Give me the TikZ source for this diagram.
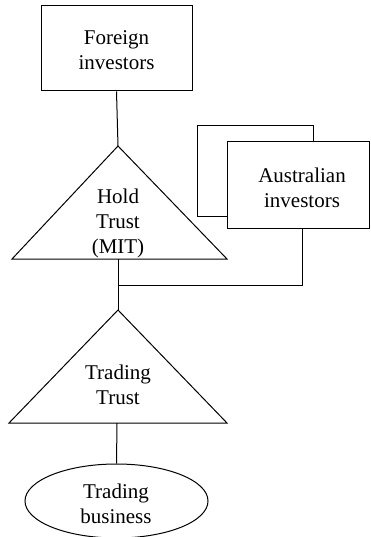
\documentclass[tikz,border=0pt]{standalone}
\usepackage{fontspec}
\setmainfont{Liberation Serif}
\usetikzlibrary{shapes.geometric}
\begin{document}
\begin{tikzpicture}[x=1pt,y=-1pt,
  every path/.style={line width=1pt},
  lbl/.style={align=center,inner sep=0pt,font=\fontsize{21}{25}\selectfont},
  boxshape/.style={draw,fill=white,line width=1pt}]
\useasboundingbox (0,0) rectangle (370,537);
% Foreign investors box
\node[draw,line width=1pt,minimum width=151pt,minimum height=85pt,inner sep=0pt] (fbox) at (116.5,48.5) {};
\node[lbl] (ftxt) at (116.5,50) {Foreign\\investors};
% Hold trust triangle
\coordinate (hapex) at (118,146);
\coordinate (hbl) at (12,259);
\coordinate (hbr) at (227,259);
\coordinate (hbase) at (118,259);
\draw (hapex) -- (hbr) -- (hbl) -- cycle;
\node[lbl] (htxt) at (118,223) {Hold\\Trust\\(MIT)};
% Australian investors
\draw[boxshape] (197,126) rectangle (313,216);
\draw[boxshape] (227,142) rectangle (369.5,228);
\coordinate (abot) at (302,228);
\node[lbl] (atxt) at (302,187.5) {Australian\\investors};
% junction
\coordinate (jr) at (302,285);
\coordinate (jl) at (118,285);
% Trading trust triangle
\coordinate (tapex) at (118,310);
\coordinate (tbl) at (9,423);
\coordinate (tbr) at (227,423);
\coordinate (tbase) at (117,423);
\draw (tapex) -- (tbr) -- (tbl) -- cycle;
\node[lbl] (ttxt) at (118,384.5) {Trading\\Trust};
% Trading business ellipse
\node[draw,ellipse,line width=1pt,minimum width=183pt,minimum height=74pt,inner sep=0pt] (ell) at (116.5,501) {};
\node[lbl] (etxt) at (116,504) {Trading\\business};
% connectors
\draw (fbox.south) -- (hapex);
\draw (abot) -- (jr) -- (jl);
\draw (hbase) -- (tapex);
\draw (tbase) -- (ell.north);
\end{tikzpicture}
\end{document}
